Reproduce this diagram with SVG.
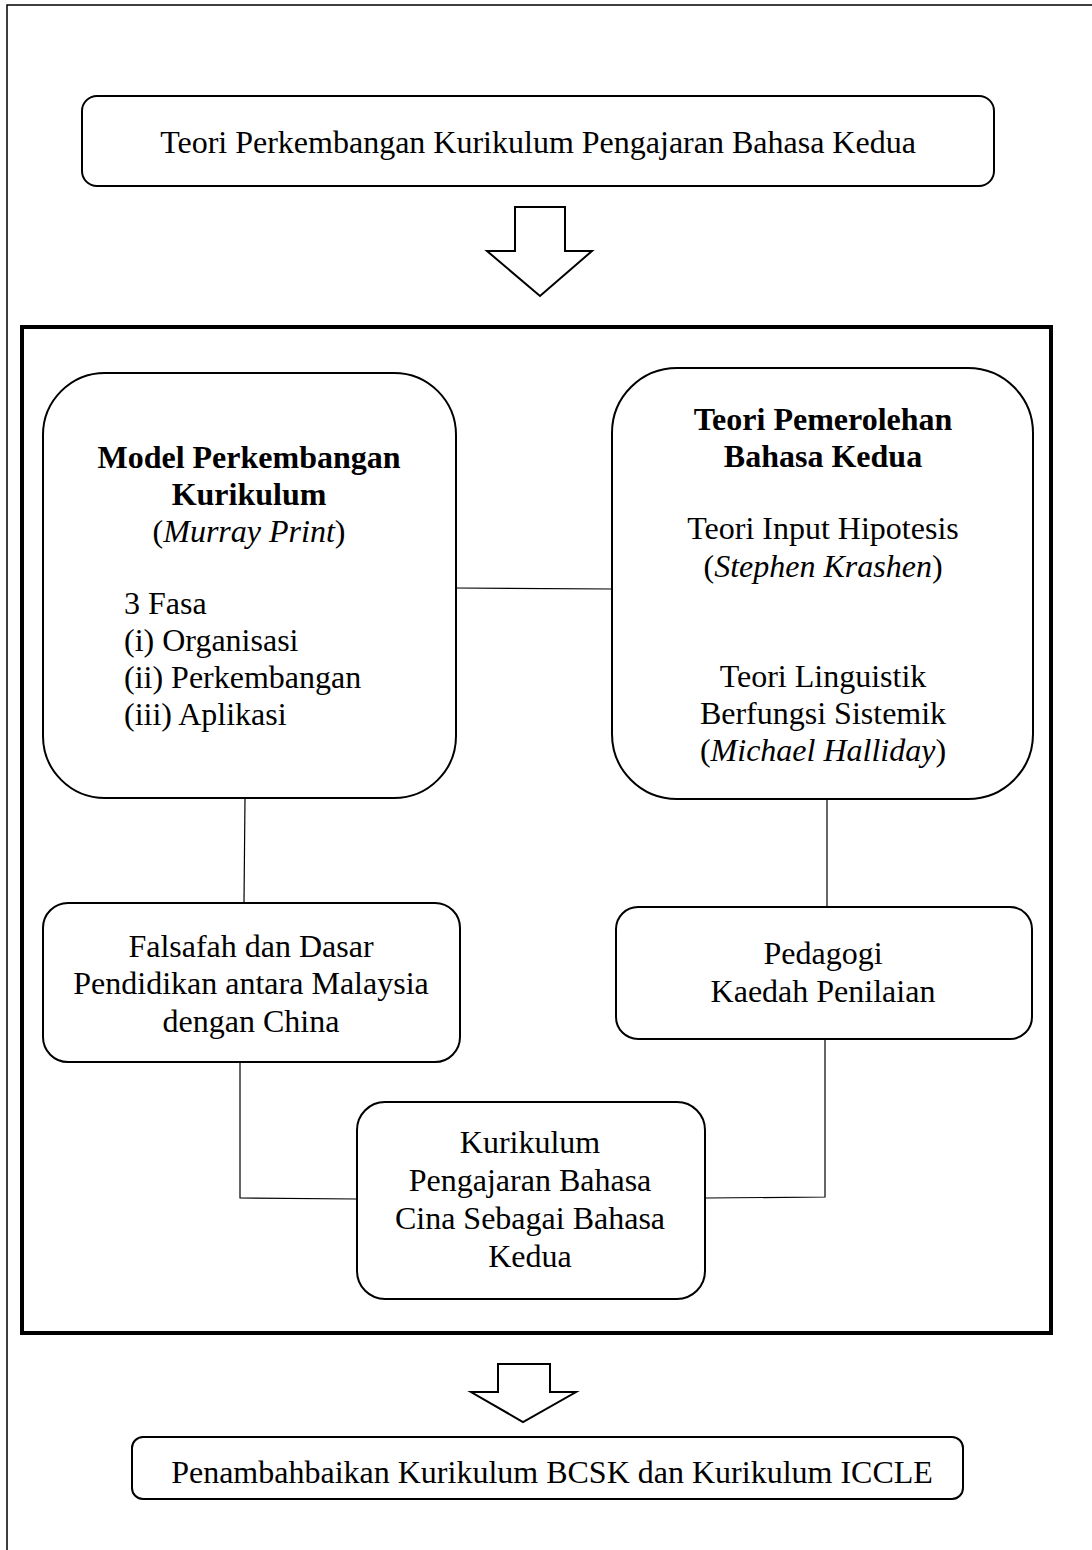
<svg xmlns="http://www.w3.org/2000/svg" width="1092" height="1550" viewBox="0 0 1092 1550">
<style>
text{font-family:"Liberation Serif","Times New Roman",serif;font-size:32px;fill:#000;text-anchor:middle}
.b{font-weight:bold}
.l{text-anchor:start}
.box{fill:#fff;stroke:#000;stroke-width:2}
.con{fill:none;stroke:#000;stroke-width:1.2}
.arr{fill:#fff;stroke:#000;stroke-width:2;stroke-linejoin:miter}
</style>
<rect width="1092" height="1550" fill="#fff"/>
<rect x="7" y="5" width="1100" height="1560" fill="none" stroke="#000" stroke-width="1.5"/>
<rect id="frame" x="22" y="327" width="1029" height="1006" fill="none" stroke="#000" stroke-width="4"/>
<g id="connectors">
<line class="con" x1="456" y1="588" x2="612" y2="589"/>
<line class="con" x1="245" y1="798" x2="244" y2="902"/>
<line class="con" x1="827" y1="799" x2="827" y2="907"/>
<polyline class="con" points="240,1062 240,1198 356,1199"/>
<polyline class="con" points="825,1039 825,1197 706,1198"/>
<polygon id="arrow1" class="arr" points="515,207 565,207 565,251 592,251 540,296 487,251 515,251"/>
<polygon id="arrow2" class="arr" points="498,1364 550,1364 550,1392 576,1392 523,1422 471,1392 498,1392"/>
</g>
<g id="top">
<rect class="box" x="82" y="96" width="912" height="90" rx="15"/>
<text x="538" y="153">Teori Perkembangan Kurikulum Pengajaran Bahasa Kedua</text>
</g>
<g id="model">
<rect class="box" x="43" y="373" width="413" height="425" rx="62"/>
<text class="b" x="249" y="468">Model Perkembangan</text>
<text class="b" x="249" y="505">Kurikulum</text>
<text x="249" y="542">(<tspan font-style="italic">Murray Print</tspan>)</text>
<text class="l" x="124" y="614">3 Fasa</text>
<text class="l" x="124" y="651">(i) Organisasi</text>
<text class="l" x="124" y="688">(ii) Perkembangan</text>
<text class="l" x="124" y="725">(iii) Aplikasi</text>
</g>
<g id="teori">
<rect class="box" x="612" y="368" width="421" height="431" rx="65"/>
<text class="b" x="823" y="430">Teori Pemerolehan</text>
<text class="b" x="823" y="467">Bahasa Kedua</text>
<text x="823" y="539">Teori Input Hipotesis</text>
<text x="823" y="577">(<tspan font-style="italic">Stephen Krashen</tspan>)</text>
<text x="823" y="687">Teori Linguistik</text>
<text x="823" y="724">Berfungsi Sistemik</text>
<text x="823" y="761">(<tspan font-style="italic">Michael Halliday</tspan>)</text>
</g>
<g id="falsafah">
<rect class="box" x="43" y="903" width="417" height="159" rx="25"/>
<text x="251" y="957">Falsafah dan Dasar</text>
<text x="251" y="994">Pendidikan antara Malaysia</text>
<text x="251" y="1032">dengan China</text>
</g>
<g id="pedagogi">
<rect class="box" x="616" y="907" width="416" height="132" rx="22"/>
<text x="823" y="964">Pedagogi</text>
<text x="823" y="1002">Kaedah Penilaian</text>
</g>
<g id="kurikulum">
<rect class="box" x="357" y="1102" width="348" height="197" rx="28"/>
<text x="530" y="1153">Kurikulum</text>
<text x="530" y="1191">Pengajaran Bahasa</text>
<text x="530" y="1229">Cina Sebagai Bahasa</text>
<text x="530" y="1267">Kedua</text>
</g>
<g id="bottom">
<rect class="box" x="132" y="1437" width="831" height="62" rx="11"/>
<text x="552" y="1483">Penambahbaikan Kurikulum BCSK dan Kurikulum ICCLE</text>
</g>
</svg>
